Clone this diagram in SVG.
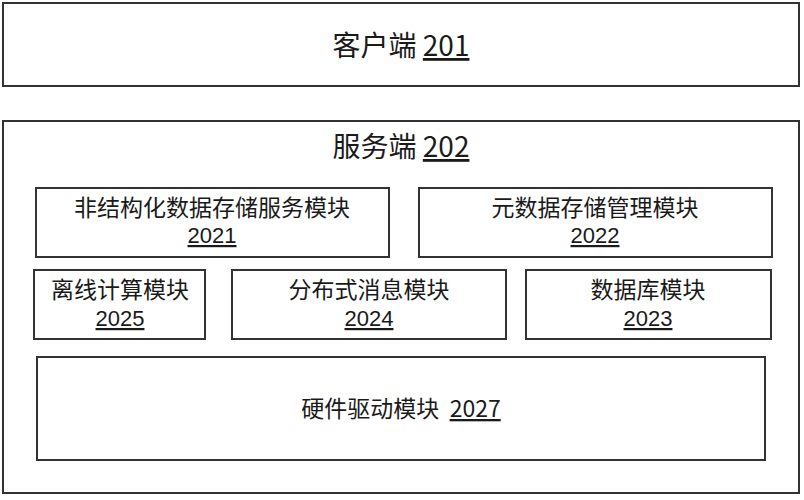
<svg xmlns="http://www.w3.org/2000/svg" width="804" height="500" viewBox="0 0 804 500">
<style>
.box{fill:#fff;stroke:#333;stroke-width:2}
.t{font-family:"Noto Sans CJK SC","Liberation Sans",sans-serif;fill:#1a1a1a;text-anchor:middle}
.n{font-family:"Liberation Sans","Noto Sans CJK SC",sans-serif;fill:#1a1a1a;text-anchor:middle;text-decoration:underline}
.big{font-size:28px}
.mid{font-size:23px}
.num{font-size:22px}
.u{text-decoration:underline}
</style>
<rect width="804" height="500" fill="#fff"/>
<g id="client">
<rect class="box" x="3" y="3" width="796" height="83"/>
<text class="t big" x="401" y="56">客户端 <tspan class="u">201</tspan></text>
</g>
<g id="server">
<rect class="box" x="3" y="121" width="796" height="372"/>
<text class="t big" x="401" y="157">服务端 <tspan class="u">202</tspan></text>
</g>
<g id="m2021">
<rect class="box" x="36" y="188" width="353" height="69"/>
<text class="t mid" x="212" y="216">非结构化数据存储服务模块</text>
<text class="n num" x="212" y="243">2021</text>
</g>
<g id="m2022">
<rect class="box" x="419" y="188" width="353" height="69"/>
<text class="t mid" x="595" y="216">元数据存储管理模块</text>
<text class="n num" x="595" y="243">2022</text>
</g>
<g id="m2025">
<rect class="box" x="34" y="270" width="171" height="69"/>
<text class="t mid" x="120" y="298">离线计算模块</text>
<text class="n num" x="120" y="326">2025</text>
</g>
<g id="m2024">
<rect class="box" x="232" y="270" width="274" height="69"/>
<text class="t mid" x="369" y="298">分布式消息模块</text>
<text class="n num" x="369" y="326">2024</text>
</g>
<g id="m2023">
<rect class="box" x="526" y="270" width="245" height="69"/>
<text class="t mid" x="648" y="298">数据库模块</text>
<text class="n num" x="648" y="326">2023</text>
</g>
<g id="m2027">
<rect class="box" x="37" y="357" width="728" height="103"/>
<text class="t mid" x="401" y="417" xml:space="preserve">硬件驱动模块  <tspan class="u">2027</tspan></text>
</g>
<g id="connectors"></g>
</svg>
